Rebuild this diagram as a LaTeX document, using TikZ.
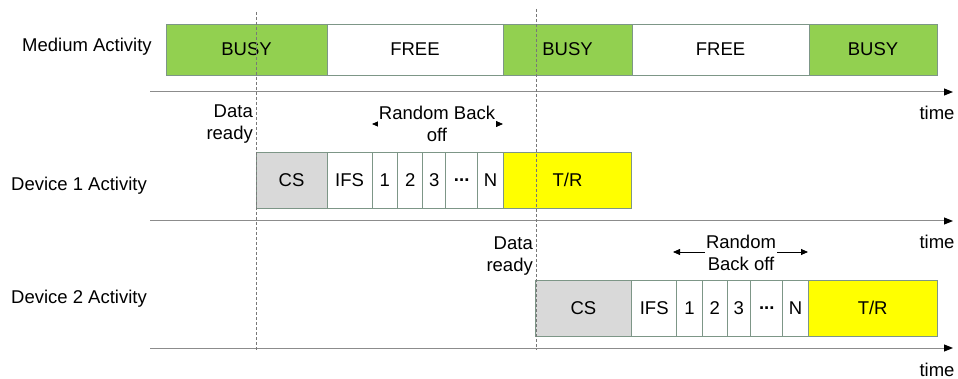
\documentclass[tikz,border=0pt]{standalone}
\usepackage{fontspec}
\setmainfont{Liberation Sans}
\usetikzlibrary{arrows.meta}
\definecolor{busygreen}{RGB}{146,208,80}
\definecolor{csgray}{RGB}{217,217,217}
\definecolor{tryellow}{RGB}{255,255,0}
\definecolor{cellborder}{RGB}{125,150,135}
\definecolor{axisgray}{RGB}{140,140,140}
\definecolor{dashgray}{RGB}{120,120,120}
\begin{document}
\begin{tikzpicture}[x=1pt,y=-1pt,
  every node/.style={font=\fontsize{18.5}{22.5}\selectfont, text=black},
  cell/.style={draw=cellborder, line width=0.9pt, anchor=north west, inner sep=0pt, outer sep=0pt, fill=white},
  axisline/.style={draw=axisgray, line width=1pt, -{Triangle[length=9pt,width=7pt,color=black]}},
  dashv/.style={draw=dashgray, line width=0.7pt, dash pattern=on 3pt off 2pt},
  bo/.style={line width=0.8pt, {Triangle[length=7pt,width=6pt]}-{Triangle[length=7pt,width=6pt]}},
  lbl/.style={anchor=center}]
\useasboundingbox (0,0) rectangle (958,379);
% labels
\node[lbl] (lm) at (87,47) {Medium Activity};
\node[lbl] (ld1) at (79,186) {Device 1 Activity};
\node[lbl] (ld2) at (79,299) {Device 2 Activity};
% medium row
\node[cell, fill=busygreen, minimum width=161pt, minimum height=51pt] (m1) at (166,24) {BUSY};
\node[cell, minimum width=176pt, minimum height=51pt] (m2) at (327,24) {FREE};
\node[cell, fill=busygreen, minimum width=129pt, minimum height=51pt] (m3) at (503,24) {BUSY};
\node[cell, minimum width=177pt, minimum height=51pt] (m4) at (632,24) {FREE};
\node[cell, fill=busygreen, minimum width=128pt, minimum height=51pt] (m5) at (809,24) {BUSY};
% device 1 row
\node[cell, fill=csgray, minimum width=71pt, minimum height=56pt] (c1) at (256,152) {CS};
\node[cell, minimum width=45pt, minimum height=56pt] (i1) at (327,152) {IFS};
\node[cell, minimum width=25.7pt, minimum height=56pt] (n11) at (372,152) {1};
\node[cell, minimum width=25pt, minimum height=56pt] (n12) at (397.7,152) {2};
\node[cell, minimum width=23pt, minimum height=56pt] (n13) at (422.7,152) {3};
\node[cell, minimum width=32pt, minimum height=56pt] (d1) at (445.7,152) {\textbf{...}};
\node[cell, minimum width=25.6pt, minimum height=56pt] (nn1) at (477.7,152) {N};
\node[cell, fill=tryellow, minimum width=128.4pt, minimum height=56pt] (t1) at (503.3,152) {T/R};
% device 2 row
\node[cell, fill=csgray, minimum width=96.7pt, minimum height=56pt] (c2) at (535,280) {CS};
\node[cell, minimum width=45pt, minimum height=56pt] (i2) at (631.7,280) {IFS};
\node[cell, minimum width=25.6pt, minimum height=56pt] (n21) at (676.7,280) {1};
\node[cell, minimum width=24.7pt, minimum height=56pt] (n22) at (702.3,280) {2};
\node[cell, minimum width=23.7pt, minimum height=56pt] (n23) at (727,280) {3};
\node[cell, minimum width=32pt, minimum height=56pt] (d2) at (750.7,280) {\textbf{...}};
\node[cell, minimum width=25.6pt, minimum height=56pt] (nn2) at (782.7,280) {N};
\node[cell, fill=tryellow, minimum width=128.7pt, minimum height=56pt] (t2) at (808.3,280) {T/R};
% axes
\coordinate (a1s) at (150,92); \coordinate (a1e) at (953,92);
\coordinate (a2s) at (150,221); \coordinate (a2e) at (953,221);
\coordinate (a3s) at (150,348); \coordinate (a3e) at (953,348);
\draw[axisline] (a1s) -- (a1e);
\draw[axisline] (a2s) -- (a2e);
\draw[axisline] (a3s) -- (a3e);
\node (tm1) at (937,113) {time};
\node (tm2) at (937,242) {time};
\node (tm3) at (937,370) {time};
% data ready
\node[align=right, anchor=east, inner sep=0pt] (dr1) at (253,124) {Data\\ready};
\node[align=right, anchor=east, inner sep=0pt] (dr2) at (533,256) {Data\\ready};
% random back off
\coordinate (b1l) at (372,124); \coordinate (b1r) at (503,124);
\draw[bo] (b1l) -- (b1r);
\node[align=center, fill=white, inner sep=1pt] (rb1) at (437,124) {Random Back\\off};
\coordinate (b2l) at (673,252); \coordinate (b2r) at (808,252);
\draw[bo] (b2l) -- (b2r);
\node[align=center, fill=white, inner sep=1pt] (rb2) at (741,253) {Random\\Back off};
% dashed verticals
\coordinate (v1t) at (256,12); \coordinate (v1b) at (256,350);
\coordinate (v2t) at (536,9); \coordinate (v2b) at (536,350);
\draw[dashv] (v1t) -- (v1b);
\draw[dashv] (v2t) -- (v2b);
\end{tikzpicture}
\end{document}
